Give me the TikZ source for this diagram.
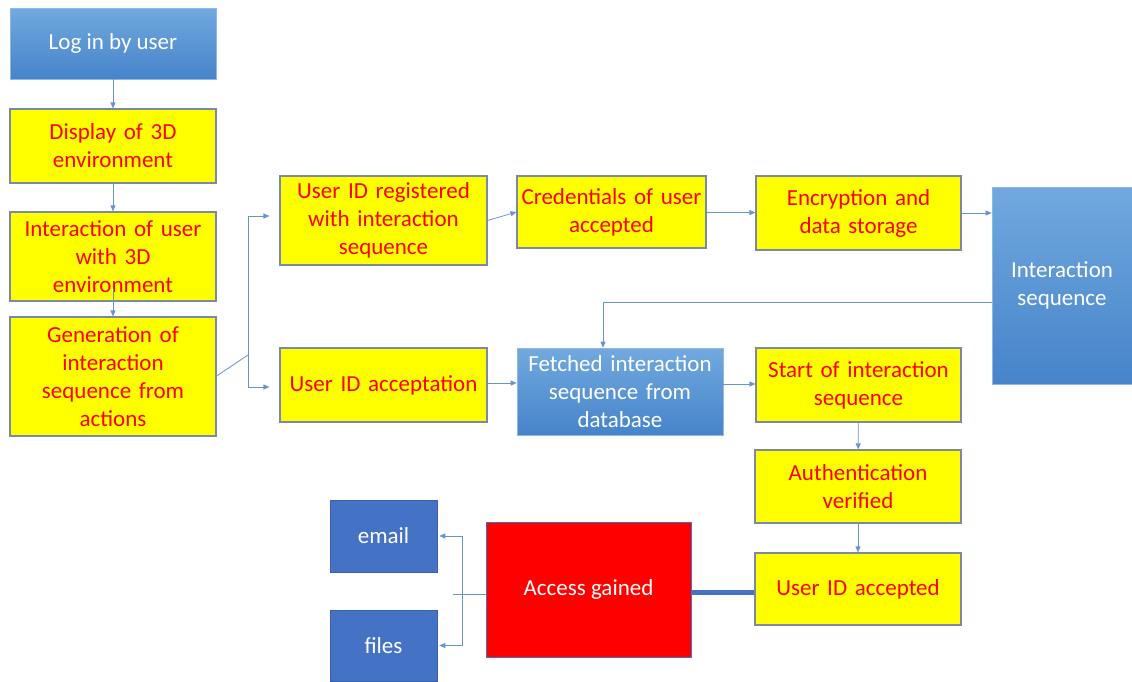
\documentclass[tikz,border=0pt]{standalone}
\usepackage{fontspec}
\setmainfont{Carlito}
\usetikzlibrary{arrows.meta}
\definecolor{boxyellow}{HTML}{FFFF00}
\definecolor{boxedge}{HTML}{7A8AA6}
\definecolor{txtred}{HTML}{FF0000}
\definecolor{gradtop}{HTML}{71A9DF}
\definecolor{gradbot}{HTML}{4683C9}
\definecolor{solidblue}{HTML}{4472C4}
\definecolor{flowline}{HTML}{6A93D4}
\begin{document}
\begin{tikzpicture}[x=1pt,y=-1pt,
  every node/.style={inner sep=2pt,font=\fontsize{23}{28}\selectfont,align=center},
  ybox/.style={draw=boxedge,line width=1.1pt,fill=boxyellow,text=txtred},
  gbox/.style={draw=gradtop!80!white,line width=0.6pt,top color=gradtop,bottom color=gradbot,text=white},
  sbox/.style={draw=solidblue!85!black,line width=0.6pt,fill=solidblue,text=white},
  rbox/.style={draw=solidblue,line width=0.8pt,fill=red,text=white},
  flow/.style={draw=flowline,line width=0.8pt,-{Triangle[length=6pt,width=5pt]}},
  plain/.style={draw=flowline,line width=0.8pt},
  thick link/.style={draw=solidblue,line width=5pt}]
\useasboundingbox (0,0) rectangle (1132,681);

% left column
\node[gbox,minimum width=206pt,minimum height=71pt] (login) at (113,43.5) {Log in by user};
\node[ybox,minimum width=206pt,minimum height=74pt,text width=198pt] (disp) at (113,146) {Display of 3D\\environment};
\node[ybox,minimum width=206pt,minimum height=89pt,text width=198pt] (inter) at (113,256.5) {Interaction of user\\with 3D\\environment};
\node[ybox,minimum width=206pt,minimum height=119pt,text width=198pt] (gen) at (113,376.5) {Generation of\\interaction\\sequence from\\actions};

% upper row
\node[ybox,minimum width=207pt,minimum height=89pt,text width=198pt] (reg) at (383.5,220.5) {User ID registered\\with interaction\\sequence};
\node[ybox,minimum width=189pt,minimum height=72pt,text width=184pt] (cred) at (611.5,212) {Credentials of user\\accepted};
\node[ybox,minimum width=205pt,minimum height=74pt,text width=198pt] (enc) at (858.5,213) {Encryption and\\data storage};
\node[gbox,minimum width=140pt,minimum height=197pt,text width=134pt] (iseq) at (1062,285.5) {Interaction\\sequence};

% middle row
\node[ybox,minimum width=207pt,minimum height=74pt,text width=198pt] (uacc) at (383.5,385) {User ID acceptation};
\node[gbox,minimum width=206pt,minimum height=87pt,text width=200pt] (fetch) at (620,391.5) {Fetched interaction\\sequence from\\database};
\node[ybox,minimum width=205pt,minimum height=74pt,text width=198pt] (start) at (858.5,385) {Start of interaction\\sequence};

% right column, lower part
\node[ybox,minimum width=206pt,minimum height=73pt,text width=198pt] (auth) at (858,486.5) {Authentication\\verified};
\node[ybox,minimum width=206pt,minimum height=72pt,text width=198pt] (acc) at (858,589) {User ID accepted};

% access and resources
\node[rbox,minimum width=205pt,minimum height=135pt] (access) at (588.5,589.5) {Access gained};
\node[sbox,minimum width=107pt,minimum height=72pt] (email) at (383.5,536) {email};
\node[sbox,minimum width=107pt,minimum height=71pt] (files) at (383.5,645.5) {files};

% connectors down the left column
\draw[flow] (login) -- (disp);
\draw[flow] (disp) -- (inter);
\draw[flow] ([yshift=13pt]inter.south) -- (gen);

% split after the generation step
\coordinate (split) at (248,355);
\coordinate (splittop) at (248,216);
\coordinate (splitbot) at (248,387);
\draw[plain] (gen.east |- 0,376) -- (split);
\draw[plain] (splittop) -- (splitbot);
\draw[flow,shorten >=10pt] (splittop) -- (splittop -| reg.west);
\draw[flow,shorten >=10pt] (splitbot) -- (splitbot -| uacc.west);

% upper row
\draw[flow] (reg.east) -- (cred.west);
\draw[flow] (cred) -- (enc);
\draw[flow] (enc.east) -- (enc.east -| iseq.west);

% stored sequence back to the fetch step
\coordinate (ret) at (603,302);
\draw[flow] (iseq.west |- ret) -- (ret) -- (ret |- fetch.north);

% middle row
\draw[flow] (uacc.east |- 0,383) -- (fetch.west |- 0,383);
\draw[flow] (fetch.east |- 0,384) -- (start.west |- 0,384);
\draw[flow] (start) -- (auth);
\draw[flow] (auth) -- (acc);

% accepted user reaches the access step
\draw[thick link] (acc.west |- 0,592) -- (access.east |- 0,592);

% access fans out to email and files
\coordinate (fan) at (462,594);
\draw[plain] (access.west |- fan) -- ([xshift=-9pt]fan);
\draw[plain] (fan |- email.east) -- (fan |- files.east);
\draw[flow,shorten >=2pt] (fan |- email.east) -- (email.east);
\draw[flow,shorten >=2pt] (fan |- files.east) -- (files.east);
\end{tikzpicture}
\end{document}
